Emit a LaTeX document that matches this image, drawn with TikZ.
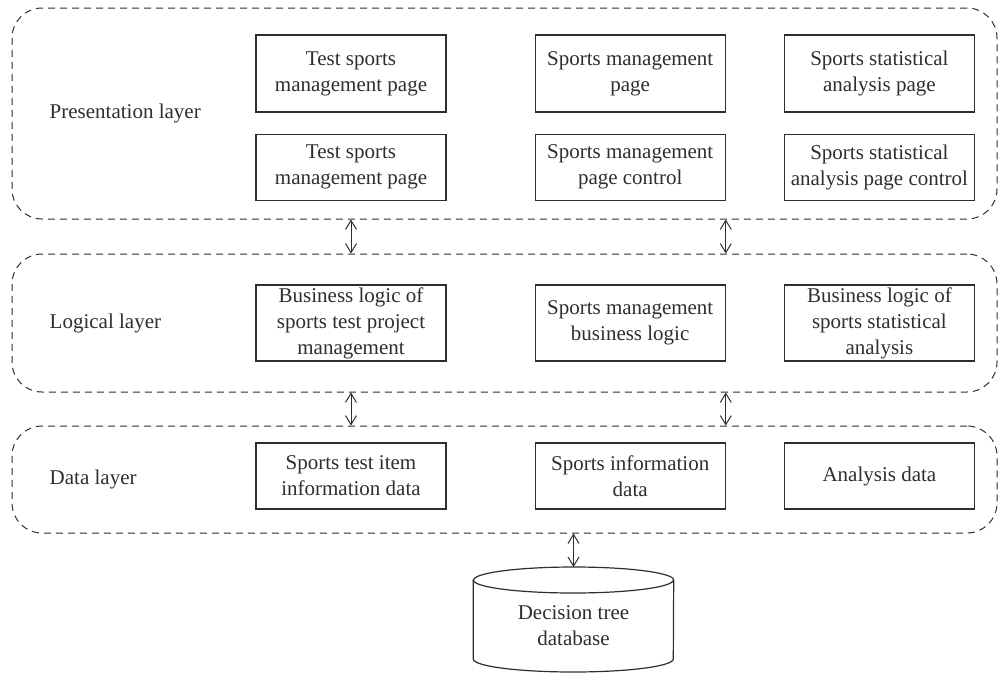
\documentclass[tikz,border=0pt]{standalone}
\usepackage{fontspec}
\setmainfont{Liberation Serif}
\usepackage{tikz}
\usetikzlibrary{arrows.meta,positioning}
\definecolor{inkgray}{HTML}{2E2E2E}
\tikzset{
  blk_base/.style = {align=center, inner sep=2pt, text centered, text=inkgray,
    font=\fontsize{21}{26}\selectfont},
  blk_n/.style = {blk_base, rectangle, draw=inkgray, line width=1.2pt,
    minimum width=190pt},% module box
  lay_d/.style = {rectangle, draw=inkgray, line width=1pt,
    dash pattern=on 7pt off 5pt, rounded corners=30pt,
    minimum width=985pt},% dashed layer
  lay_t/.style = {blk_base, anchor=west},% layer title
  lnk/.style = {<->, draw=inkgray, line width=1pt}% layer link
}

\begin{document}
\begin{tikzpicture}[x=1pt,y=-1pt,>={Straight Barb[length=9pt,width=11pt]}]
        \path [use as bounding box] (0,0) rectangle (999,673);

        % layers
        \node [lay_d, minimum height=211pt](P) at (504.5,113.5){};
        \node [lay_d, minimum height=138pt](L) at (504.5,323){};
        \node [lay_d, minimum height=107pt](D) at (504.5,479.5){};
        \node [lay_t, right= 36pt of P.west](Pt){Presentation layer};
        \node [lay_t, right= 36pt of L.west](Lt){Logical layer};
        \node [lay_t, right= 36pt of D.west](Dt){Data layer};

        % presentation layer
        \node [blk_n, minimum height=77pt](A) at (351,73.5){Test sports\\management page};
        \node [blk_n, minimum height=77pt, right= 88pt of A](B){Sports management\\page};
        \node [blk_n, minimum height=77pt, right= 58pt of B](C){Sports statistical\\analysis page};
        \node [blk_n, minimum height=66pt, below= 21pt of A](E){Test sports\\management page};
        \node [blk_n, minimum height=66pt, right= 88pt of E](F){Sports management\\page control};
        \node [blk_n, minimum height=66pt, right= 58pt of F](G){Sports statistical\\analysis page control};

        % logical layer
        \node [blk_n, minimum height=76pt](H) at (351,323){Business logic of\\sports test project\\management};
        \node [blk_n, minimum height=76pt, right= 88pt of H](I){Sports management\\business logic};
        \node [blk_n, minimum height=76pt, right= 58pt of I](J){Business logic of\\sports statistical\\analysis};

        % data layer
        \node [blk_n, minimum height=66pt](K) at (351,476){Sports test item\\information data};
        \node [blk_n, minimum height=66pt, right= 88pt of K](M){Sports information\\data};
        \node [blk_n, minimum height=66pt, right= 58pt of M](N){Analysis data};

        % database
        \node [blk_base, minimum width=200pt](db) at (573.5,625.5){Decision tree\\database};
        \coordinate (dbtop) at ([yshift=58.5pt]db.center);
        \draw [draw=inkgray, line width=1.2pt] ([yshift=45.5pt]db.west) -- ([yshift=-33.5pt]db.west)
          arc [start angle=180, end angle=360, x radius=100pt, y radius=13pt]
          -- ([yshift=45.5pt]db.east)
          arc [start angle=0, end angle=180, x radius=100pt, y radius=13pt] -- cycle;
        \draw [draw=inkgray, line width=1.2pt] ([yshift=45.5pt]db.west)
          arc [start angle=180, end angle=360, x radius=100pt, y radius=13pt];

        \draw [lnk] (A |- P.south) -- (A |- L.north);
        \draw [lnk] (F.east |- P.south) -- (F.east |- L.north);
        \draw [lnk] (H |- L.south) -- (H |- D.north);
        \draw [lnk] (I.east |- L.south) -- (I.east |- D.north);
        \draw [lnk] (dbtop |- D.south) -- (dbtop);

        \end{tikzpicture}
\end{document}
